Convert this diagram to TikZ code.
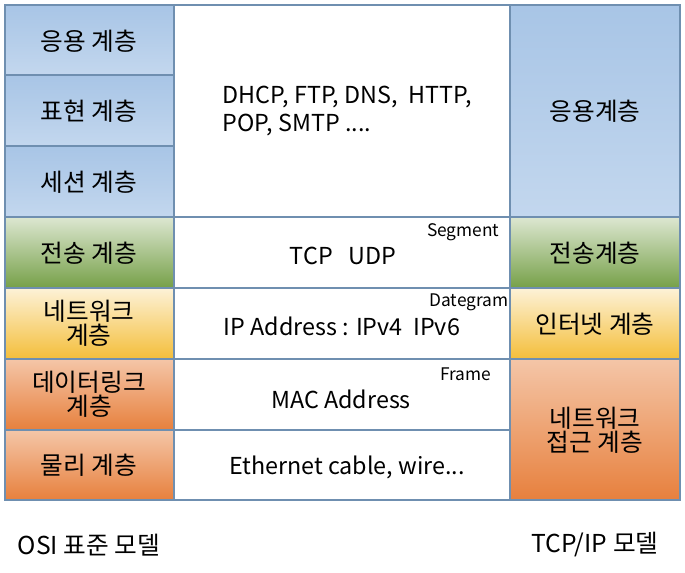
\documentclass[tikz,border=0pt]{standalone}
\usepackage{fontspec}
\setmainfont{Noto Sans CJK KR}
\begin{document}
\begin{tikzpicture}[x=0.75pt,y=-0.75pt,
  cell/.style={draw=bordc,line width=0.8pt},
  blu/.style={cell,top color=bluA,bottom color=bluB,middle color=bluA!85!white},
  grn/.style={cell,top color=white!75!grnB,bottom color=grnB},
  yel/.style={cell,top color=white!80!yelB,bottom color=yelB},
  org/.style={cell,top color=white!55!orgB,bottom color=orgB},
  big/.style={font=\fontsize{18.5}{20}\selectfont,align=center},
  lat/.style={font=\fontsize{17.5}{21}\selectfont,align=center},
  small/.style={font=\fontsize{13}{14}\selectfont}]
\definecolor{bordc}{HTML}{6F8FB0}
\definecolor{bluA}{HTML}{A8C5E6}
\definecolor{bluB}{HTML}{C3D7EE}
\definecolor{grnB}{HTML}{76A048}
\definecolor{yelB}{HTML}{F4BE3A}
\definecolor{orgB}{HTML}{E7803D}
\useasboundingbox (0,0) rectangle (685,573);
\fill[white] (0,0) rectangle (685,573);
% left column
\draw[blu] (5,5) rectangle (174,75);
\draw[blu] (5,75) rectangle (174,146);
\draw[blu] (5,146) rectangle (174,217);
\draw[grn] (5,217) rectangle (174,288);
\draw[yel] (5,288) rectangle (174,359);
\draw[org] (5,359) rectangle (174,430);
\draw[org] (5,430) rectangle (174,500);
% middle
\draw[cell,fill=white] (174,5) rectangle (510,217);
\draw[cell,fill=white] (174,217) rectangle (510,288);
\draw[cell,fill=white] (174,288) rectangle (510,359);
\draw[cell,fill=white] (174,359) rectangle (510,430);
\draw[cell,fill=white] (174,430) rectangle (510,500);
% right
\draw[blu] (510,5) rectangle (680,217);
\draw[grn] (510,217) rectangle (680,288);
\draw[yel] (510,288) rectangle (680,359);
\draw[org] (510,359) rectangle (680,500);
% texts
\node[big] (l1) at (89,41) {응용 계층};
\node[big] (l2) at (89,111) {표현 계층};
\node[big] (l3) at (89,182) {세션 계층};
\node[big] (l4) at (89,253) {전송 계층};
\node[big] (l5) at (89,323) {네트워크\\[-2pt]계층};
\node[big] (l6) at (89,394) {데이터링크\\[-2pt]계층};
\node[big] (l7) at (89,465) {물리 계층};
\node[lat,align=left,anchor=west] (m1) at (218,111) {DHCP, FTP, DNS,\ \ HTTP,\\POP, SMTP ....};
\node[lat] (m2) at (343,256) {TCP\ \ \ UDP};
\node[lat] (m3) at (342,326) {IP Address : IPv4\ \ IPv6};
\node[lat] (m4) at (341,399) {MAC Address};
\node[lat] (m5) at (347,467) {Ethernet cable, wire...};
\node[small,anchor=east] (s1) at (504,232) {Segment};
\node[small,anchor=east] (s2) at (513,302) {Dategram};
\node[small,anchor=east] (s3) at (496,374) {Frame};
\node[big] (r1) at (595,111) {응용계층};
\node[big] (r2) at (595,253) {전송계층};
\node[big] (r3) at (595,324) {인터넷 계층};
\node[big] (r4) at (595,430) {네트워크\\[-2pt]접근 계층};
\node[big] (b1) at (89,545) {OSI 표준 모델};
\node[big] (b2) at (595,545) {TCP/IP 모델};
\end{tikzpicture}
\end{document}
